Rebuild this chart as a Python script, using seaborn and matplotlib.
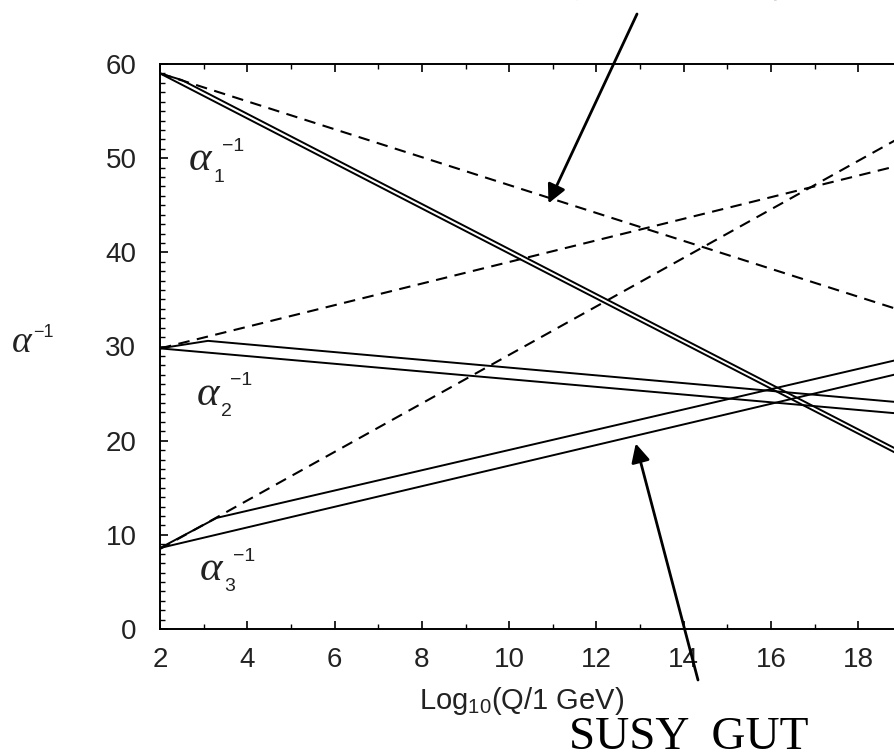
import matplotlib
matplotlib.use('Agg')
import matplotlib.pyplot as plt
from matplotlib.ticker import MultipleLocator
import seaborn as sns

# 标准模型（虚线）
x_sm = [2, 19]
a1_sm = [59.0, 33.8]
a2_sm = [29.8, 49.3]
a3_sm = [8.5, 52.3]

# SUSY（双实线，上下两条）
x_a1_hi = [2, 2.5, 19]
a1_hi = [59.0, 58.3, 18.8]
x_a1_lo = [2, 19]
a1_lo = [59.0, 18.35]
x_a2_hi = [2, 3.1, 19]
a2_hi = [29.8, 30.6, 24.05]
x_a2_lo = [2, 19]
a2_lo = [29.8, 22.85]
x_a3_hi = [2, 3.3, 19]
a3_hi = [8.6, 11.8, 28.7]
x_a3_lo = [2, 19]
a3_lo = [8.6, 27.2]

x_ticks = [2, 4, 6, 8, 10, 12, 14, 16, 18]
y_ticks = [0, 10, 20, 30, 40, 50, 60]

sns.set_style('ticks')
plt.rcParams['font.family'] = ['Liberation Sans', 'DejaVu Sans']
plt.rcParams['mathtext.fontset'] = 'custom'
plt.rcParams['mathtext.rm'] = 'Liberation Sans'
plt.rcParams['mathtext.it'] = 'Liberation Serif:italic'

W, H = 895, 756
fig = plt.figure(figsize=(W / 100, H / 100), dpi=100)
ax = fig.add_axes([160 / W, 127 / H, 742 / W, 565 / H])

dash = (0, (5.5, 3.6))
for y in [a1_sm, a2_sm, a3_sm]:
    sns.lineplot(x=x_sm, y=y, ax=ax, color='black', lw=1.5, linestyle=dash)
for xs, ys in [(x_a1_hi, a1_hi), (x_a1_lo, a1_lo), (x_a2_hi, a2_hi),
               (x_a2_lo, a2_lo), (x_a3_hi, a3_hi), (x_a3_lo, a3_lo)]:
    sns.lineplot(x=xs, y=ys, ax=ax, color='black', lw=1.4)

ax.set_xlim(2, 19)
ax.set_ylim(0, 60)
ax.set_xticks(x_ticks)
ax.set_yticks(y_ticks)
ax.xaxis.set_minor_locator(MultipleLocator(1))
ax.yaxis.set_minor_locator(MultipleLocator(1))
ax.tick_params(which='both', direction='in', top=True, right=True,
               colors='black', labelcolor='#222222', labelsize=20)
ax.tick_params(axis='x', which='major', length=6, width=1.2, pad=13)
ax.tick_params(axis='y', which='major', length=6, width=1.2, pad=17)
ax.tick_params(which='minor', length=3.5, width=1.0)
for s in ax.spines.values():
    s.set_linewidth(1.4)
    s.set_color('black')

ax.set_xlabel(r'Log$_{10}$(Q/1 GeV)', fontsize=21, color='#222222', va='top')
ax.xaxis.set_label_coords((522 - 160) / 742, -56 / 565)


# α 标签：α 用衬线斜体，上下标单独放
def alpha_label(x, y, sub):
    ax.text(x, y, 'α', fontsize=31, family='Liberation Serif', style='italic',
            va='baseline', color='#222222')
    ax.annotate(sub, (x, y), xytext=(17.5, -8), textcoords='offset points',
                fontsize=14, va='baseline', color='#222222')
    ax.annotate('−1', (x, y), xytext=(24, 14), textcoords='offset points',
                fontsize=14, va='baseline', color='#222222')


alpha_label(2.66, 48.7, '1')
alpha_label(2.85, 23.8, '2')
alpha_label(2.92, 5.2, '3')

# 纵轴标签
fig.text(12 / W, 1 - 352 / H, 'α', fontsize=27, family='Liberation Serif',
         style='italic', va='baseline', color='#222222')
fig.text(33 / W, 1 - 337 / H, '−1', fontsize=13, va='baseline', color='#222222')

# 箭头
arrow = dict(arrowstyle='-|>', lw=2, color='black', mutation_scale=28,
             shrinkA=0, shrinkB=0)
ax.annotate('', xy=(10.9, 45.2), xytext=(637 / W, 1 - 14 / H),
            textcoords='figure fraction', arrowprops=arrow)
ax.annotate('', xy=(12.9, 19.7), xytext=(698 / W, 1 - 680 / H),
            textcoords='figure fraction', arrowprops=arrow)

fig.text(689 / W, 7 / H, 'SUSY  GUT', fontsize=34, family='Liberation Serif',
         ha='center', va='baseline', color='black')
# 顶部被裁掉的标题（原图中只露出底边）
fig.text(555 / W, 1 + 3 / H, '标准模型的耦合常数',
         fontsize=29, family=['Noto Sans CJK SC', 'DejaVu Sans'],
         ha='left', va='baseline', color='black')

fig.savefig('out.png', dpi=100)
